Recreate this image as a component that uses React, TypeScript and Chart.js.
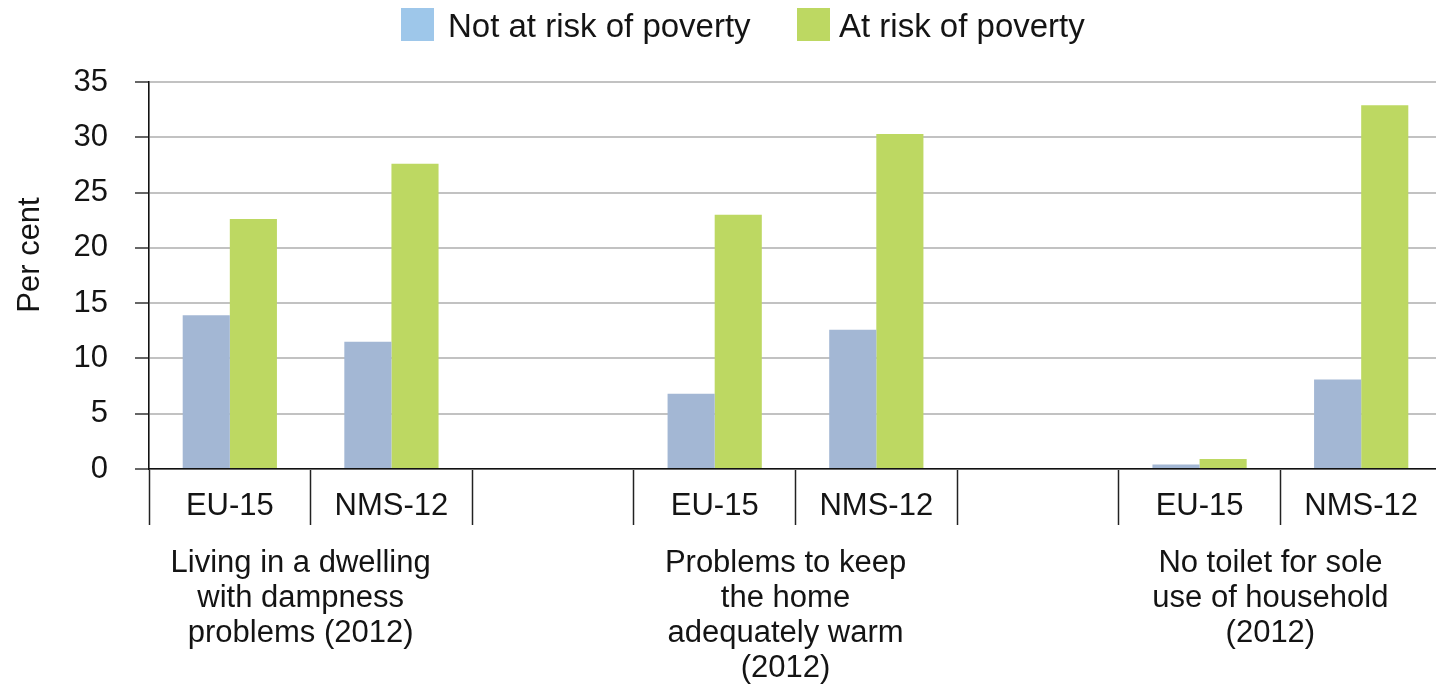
import React, { useEffect, useRef } from "react";
import { Chart, registerables } from "chart.js";

Chart.register(...registerables);

// Sub-categories along the x axis (blank slots separate the three indicators)
const subCategories = ["EU-15", "NMS-12", "", "EU-15", "NMS-12", "", "EU-15", "NMS-12"];

// Share of population (per cent)
const notAtRisk = [13.9, 11.5, null, 6.8, 12.6, null, 0.4, 8.1];
const atRisk = [22.6, 27.6, null, 23.0, 30.3, null, 0.9, 32.9];

const seriesNames = ["Not at risk of poverty", "At risk of poverty"];

// Indicator titles written under each pair of bars
const indicatorTitles = [
  ["Living in a dwelling", "with dampness", "problems (2012)"],
  ["Problems to keep", "the home", "adequately warm", "(2012)"],
  ["No toilet for sole", "use of household", "(2012)"],
];

const yAxisTitle = "Per cent";
const yMin = 0;
const yMax = 35;
const yStep = 5;

const FONT_FAMILY = "'Liberation Sans', Arial, Helvetica, sans-serif";
const TEXT_COLOR = "#141414";
const BAR_COLORS = ["#A3B7D4", "#BDD862"];
const SWATCH_COLORS = ["#9EC7EA", "#BDD862"];

const CANVAS_W = 1446;
const CANVAS_H = 685;

const legendPlugin = {
  id: "topLegend",
  afterDraw(chart: any) {
    const ctx = chart.ctx;
    const positions = [401, 797];
    ctx.save();
    ctx.font = `33px ${FONT_FAMILY}`;
    ctx.textBaseline = "alphabetic";
    ctx.textAlign = "left";
    chart.data.datasets.forEach((ds: any, i: number) => {
      const x = positions[i];
      ctx.fillStyle = SWATCH_COLORS[i];
      ctx.fillRect(x, 8, 33, 33);
      ctx.fillStyle = TEXT_COLOR;
      ctx.fillText(ds.label, x + (i === 0 ? 47 : 42), 37);
    });
    ctx.restore();
  },
};

const indicatorTitlePlugin = {
  id: "indicatorTitles",
  afterDraw(chart: any) {
    const ctx = chart.ctx;
    const xs = chart.scales.x;
    const bottom = chart.chartArea.bottom;
    ctx.save();
    ctx.font = `31px ${FONT_FAMILY}`;
    ctx.fillStyle = TEXT_COLOR;
    ctx.textAlign = "center";
    ctx.textBaseline = "alphabetic";
    indicatorTitles.forEach((lines, g) => {
      const cx = (xs.getPixelForValue(3 * g) + xs.getPixelForValue(3 * g + 1)) / 2 - 10;
      lines.forEach((line, i) => {
        ctx.fillText(line, cx, bottom + 103 + i * 35);
      });
    });
    ctx.restore();
  },
};

const yTitlePlugin = {
  id: "yTitle",
  afterDraw(chart: any) {
    const ctx = chart.ctx;
    ctx.save();
    ctx.translate(30, 255);
    ctx.rotate(-Math.PI / 2);
    ctx.font = `31px ${FONT_FAMILY}`;
    ctx.fillStyle = TEXT_COLOR;
    ctx.textAlign = "center";
    ctx.textBaseline = "middle";
    ctx.fillText(yAxisTitle, 0, 0);
    ctx.restore();
  },
};

export default function App() {
  const canvasRef = useRef<HTMLCanvasElement | null>(null);

  useEffect(() => {
    if (!canvasRef.current) return;
    const chart = new Chart(canvasRef.current, {
      type: "bar",
      data: {
        labels: subCategories,
        datasets: [
          {
            label: seriesNames[0],
            data: notAtRisk,
            backgroundColor: BAR_COLORS[0],
            categoryPercentage: 0.583,
            barPercentage: 1,
          },
          {
            label: seriesNames[1],
            data: atRisk,
            backgroundColor: BAR_COLORS[1],
            categoryPercentage: 0.583,
            barPercentage: 1,
          },
        ],
      },
      options: {
        animation: false,
        responsive: false,
        layout: { padding: { top: 82, right: 4, left: 0, bottom: 0 } },
        plugins: {
          legend: { display: false },
          tooltip: { enabled: false },
        },
        scales: {
          x: {
            grid: {
              offset: true,
              drawOnChartArea: false,
              drawTicks: true,
              tickLength: 56,
              tickColor: "#222",
              tickWidth: 1.5,
            },
            border: { color: "#111", width: 1.6 },
            ticks: {
              font: { family: FONT_FAMILY, size: 31 },
              color: TEXT_COLOR,
              padding: -37,
              autoSkip: false,
              maxRotation: 0,
            },
            afterFit: (s: any) => {
              s.height = 216;
            },
          },
          y: {
            min: yMin,
            max: yMax,
            ticks: {
              stepSize: yStep,
              font: { family: FONT_FAMILY, size: 31 },
              color: TEXT_COLOR,
              padding: 27,
            },
            grid: {
              color: "#c2c2c2",
              lineWidth: 2,
              tickColor: "#333",
              tickWidth: 1.5,
              tickLength: 14,
            },
            border: { color: "#111", width: 1.6 },
            afterFit: (s: any) => {
              s.width = 149;
            },
          },
        },
      },
      plugins: [legendPlugin, indicatorTitlePlugin, yTitlePlugin],
    });
    return () => chart.destroy();
  }, []);

  return (
    <div
      style={{
        position: "absolute",
        left: 0,
        top: 0,
        width: 1436,
        height: CANVAS_H,
        overflow: "hidden",
        background: "#fff",
      }}
    >
      <canvas
        ref={canvasRef}
        width={CANVAS_W}
        height={CANVAS_H}
        style={{ display: "block", width: CANVAS_W, height: CANVAS_H }}
      />
    </div>
  );
}
